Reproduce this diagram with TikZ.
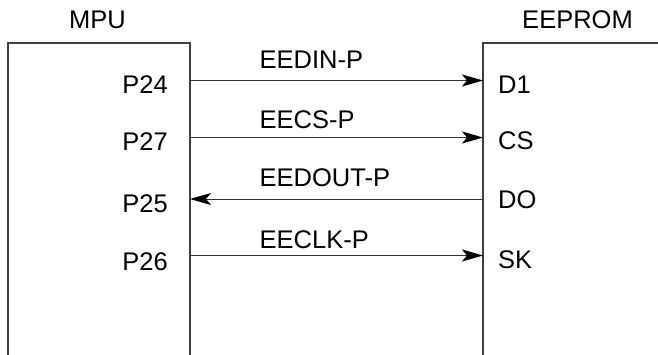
\documentclass[tikz,border=0pt]{standalone}
\usepackage{fontspec}
\setmainfont{Liberation Sans}
\usetikzlibrary{arrows.meta}
\begin{document}
\begin{tikzpicture}[x=1pt,y=-1pt,
  lbl/.style={inner sep=0pt,font=\fontsize{25.5}{30}\selectfont},
  pinl/.style={lbl,anchor=base east},
  pinr/.style={lbl,anchor=base west},
  sig/.style={lbl,anchor=base west},
  chip/.style={draw=black!75,line width=1.1pt},
  wire/.style={draw=black!80,line width=1pt,-{Stealth[length=21pt,width=12pt,inset=5pt,black]}}]
\useasboundingbox (0,0) rectangle (658,354);
\begin{scope}
\clip (0,0) rectangle (658,354);
\draw[chip] (8,380) coordinate (mpuBL) -- (8,43) coordinate (mpuTL) -- (190,43) coordinate (mpuTR) -- (190,380) coordinate (mpuBR);
\draw[chip] (483,380) coordinate (eepBL) -- (483,43) coordinate (eepTL) -- (680,43) coordinate (eepTR);
\end{scope}
\node[lbl,anchor=base] (mpu) at (97.5,28) {MPU};
\node[lbl,anchor=base] (eep) at (577.5,28) {EEPROM};
% pins
\node[pinl] (p24) at (168,93) {P24};
\node[pinl] (p27) at (168,150) {P27};
\node[pinl] (p25) at (168,212) {P25};
\node[pinl] (p26) at (168,270) {P26};
\node[pinr] (d1) at (498,93) {D1};
\node[pinr] (cs) at (498,149) {CS};
\node[pinr] (do) at (498,208) {DO};
\node[pinr] (sk) at (498,268) {SK};
% signal names
\node[sig] (s1) at (259.5,68) {EEDIN-P};
\node[sig] (s2) at (259.5,128) {EECS-P};
\node[sig] (s3) at (259.5,186) {EEDOUT-P};
\node[sig] (s4) at (259.5,248) {EECLK-P};
% wire ends
\coordinate (a1) at (190,80.5);
\coordinate (a2) at (190,137.5);
\coordinate (a3) at (190,199);
\coordinate (a4) at (190,255.5);
\coordinate (b1) at (483,80.5);
\coordinate (b2) at (483,137.5);
\coordinate (b3) at (483,199);
\coordinate (b4) at (483,255.5);
\draw[wire] (a1) -- (b1);
\draw[wire] (a2) -- (b2);
\draw[wire] (b3) -- (a3);
\draw[wire] (a4) -- (b4);
\end{tikzpicture}
\end{document}
